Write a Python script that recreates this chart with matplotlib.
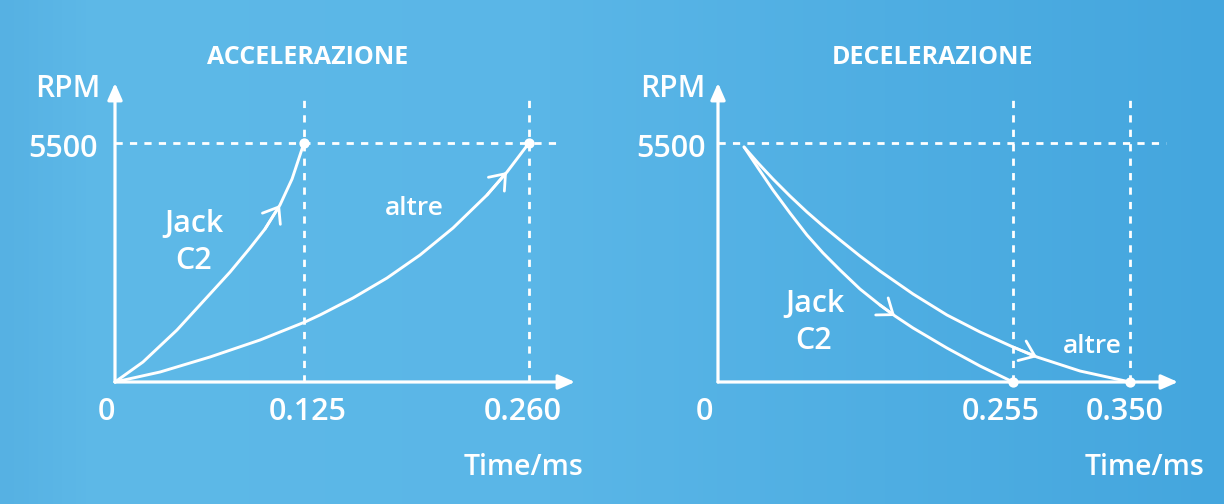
import numpy as np
import matplotlib
matplotlib.use("Agg")
import matplotlib.pyplot as plt
from matplotlib.colors import LinearSegmentedColormap

# ─── Dati ─────────────────────────────────────────────────────────────────────
RPM_TOP = 5500

# accelerazione: tempo (ms) / giri
acc_ticks = [0, 0.125, 0.260]
acc_jack_t = [0, 0.0185, 0.0410, 0.0628, 0.0761, 0.0893, 0.0992, 0.1091, 0.1171, 0.125]
acc_jack_rpm = [0, 460, 1197, 2025, 2531, 3084, 3521, 4073, 4672, 5500]
acc_altre_t = [0, 0.0298, 0.0628, 0.0959, 0.1256, 0.1346, 0.1544, 0.1748,
               0.1946, 0.2144, 0.2348, 0.2468, 0.260]
acc_altre_rpm = [0, 230, 575, 966, 1381, 1542, 1933, 2393, 2922, 3544, 4303, 4833, 5500]

# decelerazione
dec_ticks = [0, 0.255, 0.350]
dec_jack_t = [0.0225, 0.0346, 0.0475, 0.0622, 0.0769, 0.0908, 0.1055, 0.1227,
              0.1400, 0.1530, 0.1686, 0.1979, 0.2265, 0.255]
dec_jack_rpm = [5408, 4925, 4418, 3889, 3383, 2969, 2577, 2140, 1772, 1519,
                1243, 782, 368, 0]
dec_altre_t = [0.0225, 0.0346, 0.0475, 0.0622, 0.0769, 0.0908, 0.1055, 0.1227,
               0.1400, 0.1686, 0.1979, 0.2265, 0.255, 0.2745, 0.3094, 0.350]
dec_altre_rpm = [5408, 5040, 4672, 4280, 3912, 3590, 3268, 2900, 2554, 2025,
                 1542, 1151, 805, 575, 253, 0]

# ─── Layout (pixel) ───────────────────────────────────────────────────────────
W, H, DPI = 1224, 504, 100
PX_RPM = RPM_TOP / 239.0          # giri per pixel verticale
Y_TOP = 299 * PX_RPM              # punta freccia asse y
Y_DASH = 285 * PX_RPM             # fine linee tratteggiate verticali
WHITE = "#ffffff"

plt.rcParams.update({
    "font.family": ["Open Sans", "DejaVu Sans"],
    "text.color": WHITE,
})


def sketch_scale(ax, t_pts, px_pts):
    # asse x schematico: tratti lineari tra i valori indicati
    fwd = lambda t: np.interp(t, t_pts, px_pts)
    inv = lambda p: np.interp(p, px_pts, t_pts)
    ax.set_xscale("function", functions=(fwd, inv))
    ax.set_xlim(t_pts[0], t_pts[-1])
    ax.set_ylim(0, Y_TOP)


def label(ax, s, xy, dx, dy, ha="center", size=21):
    ax.annotate(s, xy=xy, xytext=(dx * 0.72, -dy * 0.72), textcoords="offset points",
                ha=ha, va="baseline", fontsize=size, color=WHITE,
                fontweight="semibold", annotation_clip=False)


def chevron(ax, t, r, i):
    ax.annotate("", xy=(t[i], r[i]), xytext=(t[i - 1], r[i - 1]),
                arrowprops=dict(arrowstyle="->,head_length=0.5,head_width=0.38",
                                color=WHITE, lw=2.0, shrinkA=0, shrinkB=0,
                                mutation_scale=20))


def panel(ax, ticks, xmax, hdash_end, curves, arrows, dots, tick_dx, lab_dx):
    for a in ("top", "right", "left", "bottom"):
        ax.spines[a].set_visible(False)
    ax.set_xticks([])
    ax.set_yticks([])
    ax.patch.set_alpha(0)

    dash = dict(color=WHITE, lw=2.0, linestyle=(0, (2.6, 2.6)), clip_on=False, zorder=2)
    ax.plot([0, hdash_end], [RPM_TOP, RPM_TOP], **dash)
    for v in ticks[1:]:
        ax.plot([v, v], [0, Y_DASH], **dash)

    # assi con freccia
    head = dict(arrowstyle="-|>,head_length=0.5,head_width=0.22", color=WHITE,
                lw=2.3, shrinkA=0, shrinkB=0, mutation_scale=20)
    ax.annotate("", xy=(0, Y_TOP), xytext=(0, 0), arrowprops=head, zorder=4)
    ax.annotate("", xy=(xmax, 0), xytext=(0, 0), arrowprops=head, zorder=4)

    for (t, r), i in zip(curves, arrows):
        ax.plot(t, r, color=WHITE, lw=2.1, solid_capstyle="round",
                solid_joinstyle="round", clip_on=False, zorder=3)
        chevron(ax, t, r, i)

    ax.scatter([d[0] for d in dots], [d[1] for d in dots], s=55, color=WHITE,
               zorder=5, clip_on=False, linewidths=0)

    # etichette assi
    for v, dx in zip(ticks, tick_dx):
        s = "0" if v == 0 else f"{v:.3f}"
        label(ax, s, (v, 0), dx, 38, ha="right" if v == 0 else "center", size=22)
    label(ax, "5500", (0, RPM_TOP), lab_dx[0], 14, ha="right", size=22)
    label(ax, "RPM", (0, Y_TOP), lab_dx[1], 14, ha="right", size=21.5)
    label(ax, "Time/ms", (xmax, 0), lab_dx[2], 93, size=20.5)


# ─── Figura ───────────────────────────────────────────────────────────────────
fig = plt.figure(figsize=(W / DPI, H / DPI), dpi=DPI)

bg = fig.add_axes([0, 0, 1, 1], zorder=-10)
cmap = LinearSegmentedColormap.from_list(
    "bg", [(0, "#56b1e3"), (0.08, "#5eb9e8"), (0.45, "#5ab6e7"), (1, "#44a6de")])
bg.imshow(np.linspace(0, 1, 256)[None, :], aspect="auto", cmap=cmap,
          extent=[0, 1, 0, 1])
bg.axis("off")

ax1 = fig.add_axes([115 / W, (H - 382) / H, 460 / W, 299 / H])
sketch_scale(ax1, [0, 0.125, 0.260, 0.2876], [0, 189, 414, 460])
panel(ax1, acc_ticks, 0.2876, 0.2798,
      [(acc_jack_t, acc_jack_rpm), (acc_altre_t, acc_altre_rpm)], [7, 11],
      [(0.125, RPM_TOP), (0.260, RPM_TOP)], [0, 4, -6], [-17, -15, -51])

ax2 = fig.add_axes([718 / W, (H - 382) / H, 460 / W, 299 / H])
sketch_scale(ax2, [0, 0.255, 0.350, 0.389], [0, 295, 412, 460])
panel(ax2, dec_ticks, 0.389, 0.3792,
      [(dec_jack_t, dec_jack_rpm), (dec_altre_t, dec_altre_rpm)], [9, 13],
      [(0.255, 0), (0.350, 0)], [-5, -12, -5], [-12, -13, -33])

# nomi delle curve
label(ax1, "Jack", (0.0522, 3452), 0, 0, size=22)
label(ax1, "C2", (0.0522, 2600), 0, 0, size=22)
label(ax1, "altre", (0.191, 3843), 0, 0, size=19)
label(ax2, "Jack", (0.0838, 1611), 0, 0, size=22)
label(ax2, "C2", (0.0830, 759), 0, 0, size=22)
label(ax2, "altre", (0.3192, 667), 0, 0, size=19)

fig.text(308 / W, 1 - 64 / H, "ACCELERAZIONE", ha="center", va="baseline",
         fontsize=18, fontweight="bold", color=WHITE)
fig.text(932 / W, 1 - 64 / H, "DECELERAZIONE", ha="center", va="baseline",
         fontsize=18, fontweight="bold", color=WHITE)

fig.savefig("out.png", dpi=DPI)
